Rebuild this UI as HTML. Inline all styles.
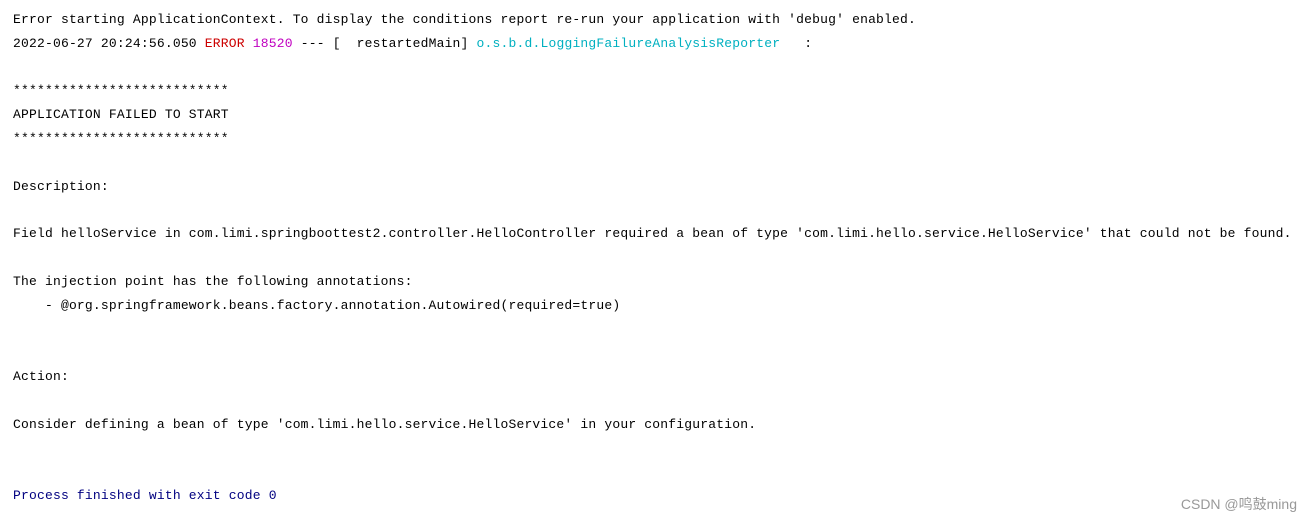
<!DOCTYPE html>
<html><head><meta charset="utf-8"><style>
html,body{margin:0;padding:0;background:#fff;width:1311px;height:523px;overflow:hidden}
pre{position:absolute;left:13px;top:8px;margin:0;font-family:"Liberation Mono","Noto Sans CJK SC",monospace;font-size:13px;line-height:23.8px;color:#000;letter-spacing:0.19px}
.r{color:#cc0000}.m{color:#c000c0}.c{color:#00b0c0}.b{color:#000080}
.wm{position:absolute;right:14px;top:494px;font-family:"Liberation Sans","Noto Sans CJK SC",sans-serif;font-size:14px;color:#999}
</style></head><body>
<pre>Error starting ApplicationContext. To display the conditions report re-run your application with 'debug' enabled.
2022-06-27 20:24:56.050 <span class="r">ERROR</span> <span class="m">18520</span> --- [  restartedMain] <span class="c">o.s.b.d.LoggingFailureAnalysisReporter</span>   :

***************************
APPLICATION FAILED TO START
***************************

Description:

Field helloService in com.limi.springboottest2.controller.HelloController required a bean of type 'com.limi.hello.service.HelloService' that could not be found.

The injection point has the following annotations:
    - @org.springframework.beans.factory.annotation.Autowired(required=true)


Action:

Consider defining a bean of type 'com.limi.hello.service.HelloService' in your configuration.


<span class="b">Process finished with exit code 0</span></pre>
<div class="wm">CSDN @鸣鼓ming</div>
</body></html>
